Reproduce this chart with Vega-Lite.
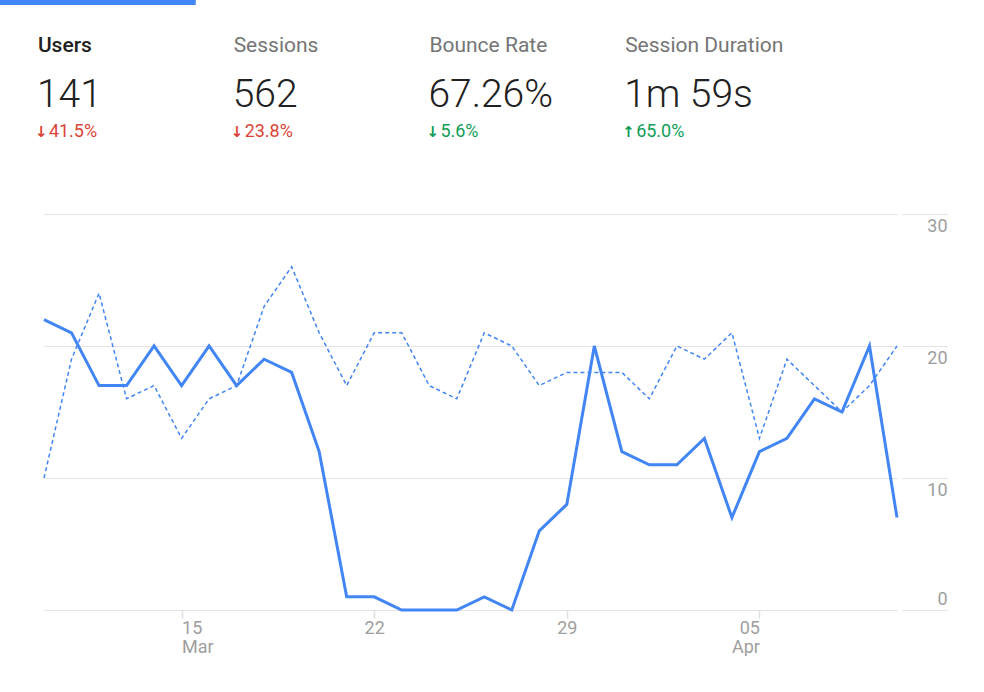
{
  "$schema": "https://vega.github.io/schema/vega-lite/v6.json",
  "background": "white",
  "padding": 0,
  "spacing": 0,
  "config": {"view": {"stroke": null}, "font": "Roboto"},
  "datasets": {
    "kpi": [
      {"metric": "Users", "value": "141", "arrow": "↓", "delta": "41.5%", "trend": "bad", "selected": true},
      {"metric": "Sessions", "value": "562", "arrow": "↓", "delta": "23.8%", "trend": "bad", "selected": false},
      {"metric": "Bounce Rate", "value": "67.26%", "arrow": "↓", "delta": "5.6%", "trend": "good", "selected": false},
      {"metric": "Session Duration", "value": "1m 59s", "arrow": "↑", "delta": "65.0%", "trend": "good", "selected": false}
    ],
    "daily": [
      {"date": "2024-03-10", "users": 22, "previous": 10},
      {"date": "2024-03-11", "users": 21, "previous": 19},
      {"date": "2024-03-12", "users": 17, "previous": 24},
      {"date": "2024-03-13", "users": 17, "previous": 16},
      {"date": "2024-03-14", "users": 20, "previous": 17},
      {"date": "2024-03-15", "users": 17, "previous": 13},
      {"date": "2024-03-16", "users": 20, "previous": 16},
      {"date": "2024-03-17", "users": 17, "previous": 17},
      {"date": "2024-03-18", "users": 19, "previous": 23},
      {"date": "2024-03-19", "users": 18, "previous": 26},
      {"date": "2024-03-20", "users": 12, "previous": 21},
      {"date": "2024-03-21", "users": 1, "previous": 17},
      {"date": "2024-03-22", "users": 1, "previous": 21},
      {"date": "2024-03-23", "users": 0, "previous": 21},
      {"date": "2024-03-24", "users": 0, "previous": 17},
      {"date": "2024-03-25", "users": 0, "previous": 16},
      {"date": "2024-03-26", "users": 1, "previous": 21},
      {"date": "2024-03-27", "users": 0, "previous": 20},
      {"date": "2024-03-28", "users": 6, "previous": 17},
      {"date": "2024-03-29", "users": 8, "previous": 18},
      {"date": "2024-03-30", "users": 20, "previous": 18},
      {"date": "2024-03-31", "users": 12, "previous": 18},
      {"date": "2024-04-01", "users": 11, "previous": 16},
      {"date": "2024-04-02", "users": 11, "previous": 20},
      {"date": "2024-04-03", "users": 13, "previous": 19},
      {"date": "2024-04-04", "users": 7, "previous": 21},
      {"date": "2024-04-05", "users": 12, "previous": 13},
      {"date": "2024-04-06", "users": 13, "previous": 19},
      {"date": "2024-04-07", "users": 16, "previous": 17},
      {"date": "2024-04-08", "users": 15, "previous": 15},
      {"date": "2024-04-09", "users": 20, "previous": 17},
      {"date": "2024-04-10", "users": 7, "previous": 20}
    ]
  },
  "vconcat": [
    {
      "width": 783,
      "height": 5,
      "data": {"name": "kpi"},
      "transform": [{"filter": "datum.selected"}],
      "mark": {"type": "rect", "color": "#4285f4", "xOffset": -44, "x2Offset": -44},
      "encoding": {
        "x": {"field": "metric", "type": "nominal", "sort": null,
              "scale": {"domain": ["Users", "Sessions", "Bounce Rate", "Session Duration"], "paddingInner": 0, "paddingOuter": 0},
              "axis": null}
      }
    },
    {
      "width": 783,
      "height": 208,
      "data": {"name": "kpi"},
      "encoding": {
        "x": {"field": "metric", "type": "nominal", "sort": null,
              "scale": {"domain": ["Users", "Sessions", "Bounce Rate", "Session Duration"], "paddingInner": 0, "paddingOuter": 0},
              "axis": null}
      },
      "layer": [
        {
          "transform": [{"filter": "datum.selected"}],
          "mark": {"type": "text", "align": "left", "baseline": "alphabetic", "dx": -104, "dy": -57, "fontSize": 21, "fontWeight": 500, "color": "#212121"},
          "encoding": {"text": {"field": "metric"}}
        },
        {
          "transform": [{"filter": "!datum.selected"}],
          "mark": {"type": "text", "align": "left", "baseline": "alphabetic", "dx": -104, "dy": -57, "fontSize": 21, "fontWeight": 400, "color": "#757575"},
          "encoding": {"text": {"field": "metric"}}
        },
        {
          "mark": {"type": "text", "align": "left", "baseline": "alphabetic", "dx": -105, "dy": -2, "fontSize": 39, "fontWeight": 300, "color": "#212121"},
          "encoding": {"text": {"field": "value"}}
        },
        {
          "mark": {"type": "text", "align": "left", "baseline": "alphabetic", "dx": -107, "dy": 28, "fontSize": 15, "font": "DejaVu Sans", "fontWeight": "bold"},
          "encoding": {
            "text": {"field": "arrow"},
            "color": {"field": "trend", "type": "nominal", "scale": {"domain": ["bad", "good"], "range": ["#db4437", "#0f9d58"]}, "legend": null}
          }
        },
        {
          "mark": {"type": "text", "align": "left", "baseline": "alphabetic", "dx": -93, "dy": 28, "fontSize": 18},
          "encoding": {
            "text": {"field": "delta"},
            "color": {"field": "trend", "type": "nominal", "scale": {"domain": ["bad", "good"], "range": ["#db4437", "#0f9d58"]}, "legend": null}
          }
        }
      ]
    },
    {
      "width": 853,
      "height": 396,
      "data": {"name": "daily"},
      "transform": [{"fold": ["previous", "users"], "as": ["series", "count"]}],
      "encoding": {
        "x": {
          "field": "date", "type": "temporal",
          "scale": {"type": "utc", "domain": [{"year": 2024, "month": 3, "date": 10, "utc": true}, {"year": 2024, "month": 4, "date": 10, "utc": true}]},
          "axis": {
            "title": null,
            "values": [
              {"year": 2024, "month": 3, "date": 15, "utc": true},
              {"year": 2024, "month": 3, "date": 22, "utc": true},
              {"year": 2024, "month": 3, "date": 29, "utc": true},
              {"year": 2024, "month": 4, "date": 5, "utc": true}
            ],
            "grid": false,
            "domain": false,
            "tickSize": 8,
            "tickColor": "#e0e0e0",
            "tickWidth": 1.5,
            "labelColor": "#9e9e9e",
            "labelFont": "Roboto",
            "labelFontSize": 18,
            "labelPadding": 1,
            "labelLineHeight": 19,
            "labelFlush": false,
            "labelOverlap": false,
            "labelExpr": "utcdate(datum.value) == 15 || utcdate(datum.value) == 5 ? [utcFormat(datum.value, '%d'), utcFormat(datum.value, '%b')] : utcFormat(datum.value, '%d')",
            "labelAlign": {"condition": [{"test": "utcdate(datum.value) == 15", "value": "left"}, {"test": "utcdate(datum.value) == 5", "value": "right"}], "value": "center"}
          }
        },
        "y": {
          "field": "count", "type": "quantitative",
          "scale": {"domain": [0, 30], "nice": false},
          "axis": {
            "title": null,
            "orient": "right",
            "values": [0, 10, 20, 30],
            "offset": 5,
            "domain": false,
            "grid": true,
            "gridColor": "#e3e3e3",
            "tickSize": 45,
            "tickColor": "#e3e3e3",
            "labelAlign": "right",
            "labelPadding": 0,
            "labelColor": "#9e9e9e",
            "labelFont": "Roboto",
            "labelFontSize": 18,
            "labelFlush": false,
            "labelBaseline": {"condition": {"test": "datum.value === 0", "value": "bottom"}, "value": "top"},
            "labelOffset": {"condition": {"test": "datum.value === 0", "value": -2}, "value": 3}
          }
        }
      },
      "layer": [
        {
          "transform": [{"filter": "datum.series === 'previous'"}],
          "mark": {"type": "line", "color": "#4285f4", "strokeWidth": 1.5, "strokeDash": [4, 3]}
        },
        {
          "transform": [{"filter": "datum.series === 'users'"}],
          "mark": {"type": "line", "color": "#4285f4", "strokeWidth": 3}
        }
      ]
    }
  ]
}
